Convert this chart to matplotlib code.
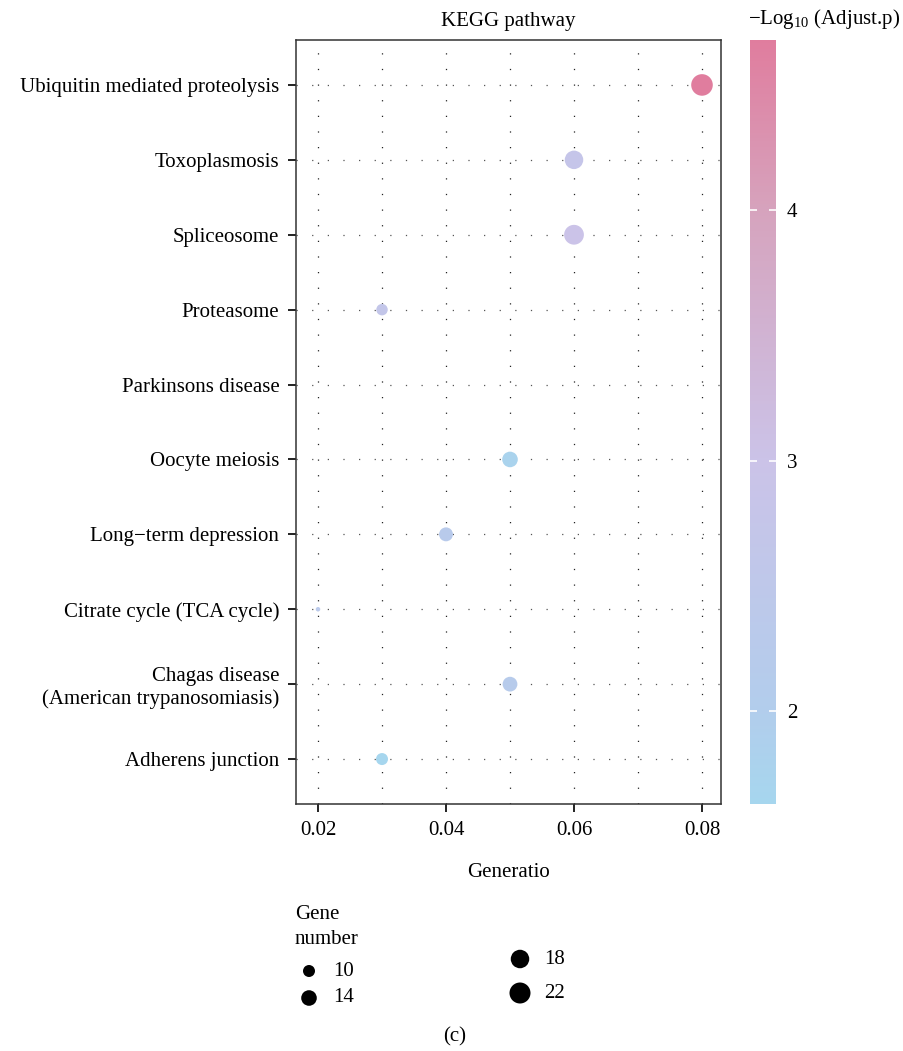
import numpy as np
import matplotlib
matplotlib.use('Agg')
import matplotlib.pyplot as plt
from matplotlib.colors import LinearSegmentedColormap, Normalize
from matplotlib.cm import ScalarMappable

plt.rcParams['font.family'] = ['Liberation Serif', 'DejaVu Serif']
plt.rcParams['mathtext.fontset'] = 'custom'
plt.rcParams['mathtext.rm'] = 'Liberation Serif'
plt.rcParams['mathtext.it'] = 'Liberation Serif:italic'

# data, bottom to top as shown on the y axis
pathways = ['Adherens junction',
            'Chagas disease\n(American trypanosomiasis)',
            'Citrate cycle (TCA cycle)',
            'Long\u2212term depression',
            'Oocyte meiosis',
            'Parkinsons disease',
            'Proteasome',
            'Spliceosome',
            'Toxoplasmosis',
            'Ubiquitin mediated proteolysis']
gene_ratio = [0.03, 0.05, 0.02, 0.04, 0.05, np.nan, 0.03, 0.06, 0.06, 0.08]
gene_count = [10, 13, 5, 12, 14, np.nan, 9.5, 20, 18, 23]
neg_log_p = [1.63, 2.2, 2.35, 2.25, 1.75, np.nan, 2.7, 3.0, 2.75, 4.68]

legend_counts = [10, 14, 18, 22]
x_ticks = [0.02, 0.04, 0.06, 0.08]
cbar_ticks = [2, 3, 4]

vmin, vmax = np.nanmin(neg_log_p), np.nanmax(neg_log_p)
# colour anchors at -log10 p = vmin, 2, 3, 4, vmax
anchor_vals = [vmin, 2, 3, 4, vmax]
anchor_cols = ['#a6d6ee', '#b2cdec', '#cbc3e8', '#d6a3bd', '#e07d9e']
cmap = LinearSegmentedColormap.from_list(
    'bp', [((v - vmin) / (vmax - vmin), c) for v, c in zip(anchor_vals, anchor_cols)])
norm = Normalize(vmin=vmin, vmax=vmax)


def size_scale(c):
    # area grows linearly with gene count (diameter in px -> points^2)
    d_px = np.sqrt(np.maximum(24.75 * np.asarray(c, float) - 103.5, 1))
    return (d_px * 0.72) ** 2


fig = plt.figure(figsize=(9.04, 10.51), dpi=100)
ax = fig.add_axes([296 / 904, 1 - 804 / 1051, 425 / 904, 764 / 1051])

y = np.arange(len(pathways))
ax.scatter(gene_ratio, y, s=size_scale(gene_count), c=neg_log_p,
           cmap=cmap, norm=norm, edgecolors='none', zorder=3)

ax.set_xlim(0.01656, 0.08297)
ax.set_ylim(-0.6, len(pathways) - 0.4)
ax.set_xticks(x_ticks)
ax.set_xticklabels([f'{t:.2f}' for t in x_ticks])
ax.set_xticks(np.arange(0.03, 0.08, 0.02), minor=True)
ax.set_yticks(y)
ax.set_yticklabels(pathways)

ax.grid(True, which='both', axis='x', color='#222222', linewidth=0.9,
        linestyle=(0, (1, 11.5)))
ax.grid(True, which='major', axis='y', color='#555555', linewidth=0.9,
        linestyle=(0, (1, 11.5)))
ax.set_axisbelow(True)
ax.tick_params(which='minor', length=0)
ax.tick_params(which='major', length=6, width=1.4, color='#222222',
               labelsize=15, pad=6)
for sp in ax.spines.values():
    sp.set_color('#333333')
    sp.set_linewidth(1.1)

ax.set_title('KEGG pathway', fontsize=15, pad=10)
ax.set_xlabel('Generatio', fontsize=15, labelpad=17)

# colour bar
cax = fig.add_axes([750 / 904, 1 - 804 / 1051, 26 / 904, 764 / 1051])
sm = ScalarMappable(norm=norm, cmap=cmap)
cb = fig.colorbar(sm, cax=cax)
cb.outline.set_visible(False)
cb.set_ticks(cbar_ticks)
cax.yaxis.set_ticks_position('both')
cax.tick_params(axis='y', which='major', direction='in', color='white',
                length=5, width=1.2, labelsize=15, pad=8,
                labelleft=False, labelright=True)
cax.tick_params(axis='y', which='minor', length=0)
fig.text(748 / 904, 1 - 19 / 1051, r'$\mathrm{-Log_{10}}$ (Adjust.p)',
         fontsize=15, ha='left', va='center')

# size legend
lax = fig.add_axes([0, 0, 1, 1])
lax.set_xlim(0, 904)
lax.set_ylim(1051, 0)
lax.axis('off')
leg_x = [309, 309, 520, 520]
leg_y = [971, 998, 959, 993]
lax.scatter(leg_x, leg_y, s=size_scale(legend_counts), color='black',
            edgecolors='none')
for lx, ly, lc in zip(leg_x, leg_y, legend_counts):
    lax.text(lx + 24, ly, str(lc), fontsize=15, ha='left', va='center')
lax.text(295, 927, 'Gene\nnumber', fontsize=15, ha='left', va='center',
         linespacing=1.45)

fig.text(455 / 904, 1 - 1037 / 1051, '(c)', fontsize=15, ha='center',
         va='center')

fig.savefig('out.png', dpi=100)
